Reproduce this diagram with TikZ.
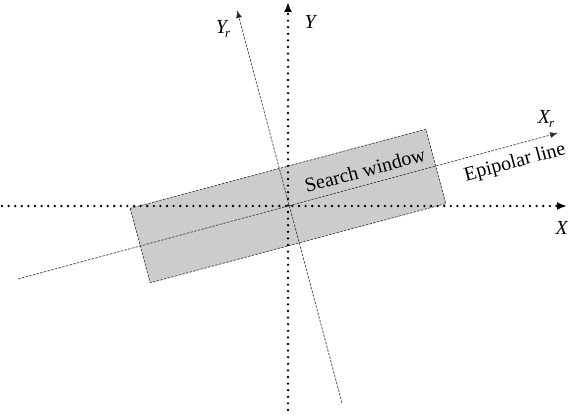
\documentclass[tikz,border=0pt]{standalone}
\usepackage{fontspec}
\setmainfont{Liberation Serif}
\usetikzlibrary{arrows.meta}
\begin{document}
\begin{tikzpicture}[x=1pt,y=-1pt,
  axis/.style={line width=2.6pt, line cap=round, dash pattern=on 0pt off 6.6pt, -{Latex[length=10pt,width=8pt]}},
  thin/.style={line width=0.7pt, draw=black!75, dash pattern=on 2.5pt off 1.3pt},
  tip/.style={-{Latex[length=8pt,width=6pt,fill=black!85]}},
  label/.style={font=\fontsize{20}{22}\selectfont, inner sep=0pt}]
\useasboundingbox (0,0) rectangle (570,417);
% window
\coordinate (tl) at (130.2,208.4);
\coordinate (bl) at (150.2,282.8);
\coordinate (br) at (445.8,203.6);
\coordinate (tr) at (425.8,129.2);
\filldraw[fill=black!20, thin] (tl) -- (bl) -- (br) -- (tr) -- cycle;
% rotated axes
\coordinate (xrs) at (18,279);
\coordinate (xre) at (558,133);
\coordinate (yrs) at (342,403);
\coordinate (yre) at (237,10);
\draw[thin, tip] (xrs) -- (xre);
\draw[thin, tip] (yrs) -- (yre);
% main axes
\coordinate (xs) at (2,206);
\coordinate (xe) at (567,206);
\coordinate (ys) at (288,410);
\coordinate (ye) at (288,2);
\draw[axis] (xs) -- (xe);
\draw[axis] (ys) -- (ye);
% labels
\node[label] (lx) at (562,228) {\textit{X}};
\node[label] (ly) at (311,22) {\textit{Y}};
\node[label] (lxr) at (546,119) {\textit{X\kern-1pt\raisebox{-4pt}{\fontsize{13}{14}\selectfont r}}};
\node[label] (lyr) at (223,29) {\textit{Y\kern-2pt\raisebox{-4pt}{\fontsize{13}{14}\selectfont r}}};
\node[label, rotate=15] (sw) at (365,170) {Search window};
\node[label, rotate=15] (ep) at (515,163) {Epipolar line};
\end{tikzpicture}
\end{document}
